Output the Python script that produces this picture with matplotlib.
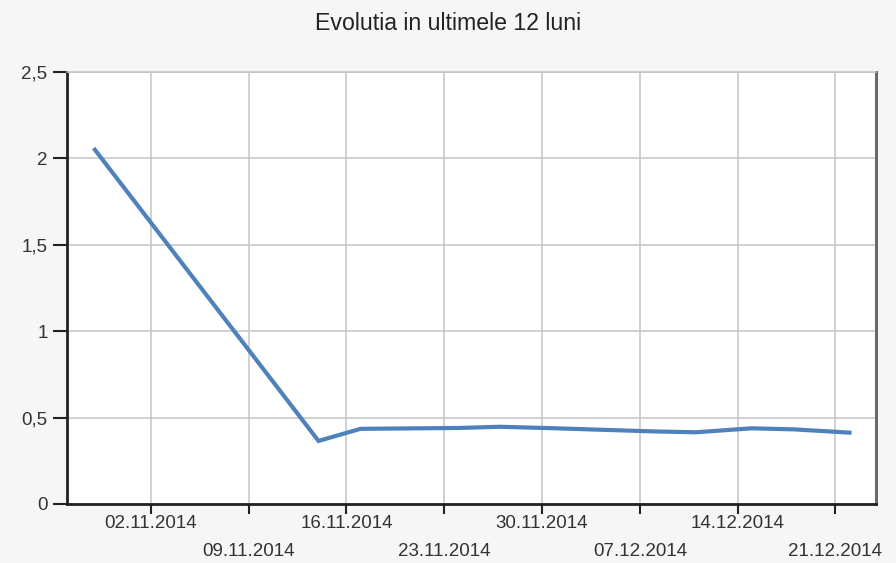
import matplotlib
matplotlib.use("Agg")
import matplotlib.pyplot as plt
import matplotlib.dates as mdates
from datetime import datetime, timedelta

# Data
dates = ["29.10.2014", "14.11.2014", "17.11.2014", "24.11.2014", "27.11.2014",
         "01.12.2014", "08.12.2014", "11.12.2014", "15.12.2014", "18.12.2014",
         "22.12.2014"]
values = [2.05, 0.365, 0.435, 0.44, 0.447, 0.438, 0.42, 0.415, 0.438, 0.432, 0.413]
tick_dates = ["02.11.2014", "09.11.2014", "16.11.2014", "23.11.2014",
              "30.11.2014", "07.12.2014", "14.12.2014", "21.12.2014"]
y_ticks = [0, 0.5, 1, 1.5, 2, 2.5]
y_labels = ["0", "0,5", "1", "1,5", "2", "2,5"]
title = "Evolutia in ultimele 12 luni"

plt.rcParams['font.family'] = ['Liberation Sans', 'DejaVu Sans']

x = [datetime.strptime(d, "%d.%m.%Y") for d in dates]
xt = [datetime.strptime(d, "%d.%m.%Y") for d in tick_dates]

fig = plt.figure(figsize=(8.96, 5.63), dpi=100, facecolor="#f6f6f6")
ax = fig.add_axes([67/896, 1-504/563, (876-67)/896, (504-72)/563])
ax.set_facecolor("white")

ax.plot(x, values, color="#4f81bd", linewidth=3.0, solid_joinstyle="miter", zorder=3)

ax.set_xlim(datetime(2014, 10, 27), datetime(2014, 10, 27) + timedelta(days=57.9))
ax.set_ylim(0, 2.5)

ax.set_yticks(y_ticks)
ax.set_yticklabels(y_labels)
ax.set_xticks(xt)
ax.set_xticklabels([d if i % 2 == 0 else "\n" + d for i, d in enumerate(tick_dates)])
for lab in ax.get_xticklabels():
    lab.set_linespacing(1.85)

ax.grid(True, color="#c4c4c4", linewidth=1.1)
ax.set_axisbelow(True)

ax.tick_params(axis="both", direction="out", width=1.5, color="#222222",
               labelsize=13.5, labelcolor="#333333")
ax.tick_params(axis="x", length=7, pad=1)
ax.tick_params(axis="y", length=10, pad=4)

for s in ["left", "bottom"]:
    ax.spines[s].set_color("#222222")
    ax.spines[s].set_linewidth(2)
ax.spines["right"].set_color("#6a6a6a")
ax.spines["right"].set_linewidth(2.2)
ax.spines["top"].set_color("#c4c4c4")
ax.spines["top"].set_linewidth(1.1)

fig.text(448/896, 1-23/563, title, ha="center", va="center", fontsize=16.7, color="#222222")

fig.savefig("out.png", dpi=100, facecolor=fig.get_facecolor())
